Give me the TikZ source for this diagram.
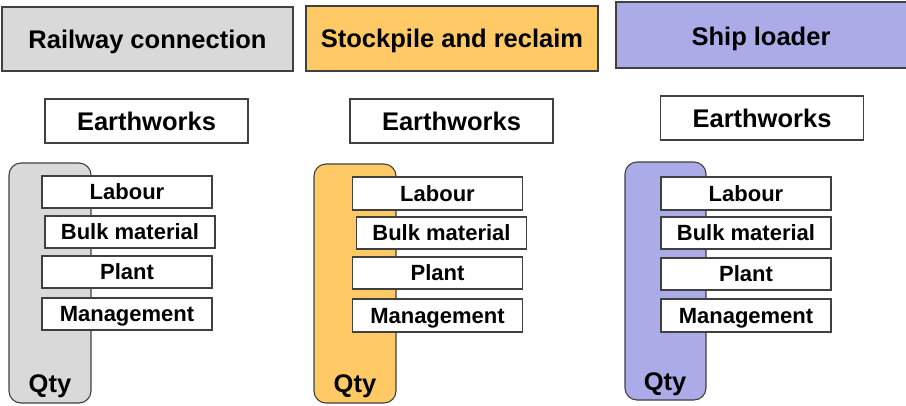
\documentclass[tikz,border=0pt]{standalone}
\usepackage{fontspec}
\setmainfont{Liberation Sans}
\definecolor{cgray}{HTML}{D9D9D9}
\definecolor{corange}{HTML}{FFCA66}
\definecolor{cpurple}{HTML}{ABABE8}
\definecolor{cline}{HTML}{404040}
\begin{document}
\begin{tikzpicture}[x=1pt,y=-1pt,
  bigtext/.style={text height=18.3pt, text depth=0pt, font=\fontsize{25.5}{30}\selectfont\bfseries},
  smalltext/.style={text height=15.8pt, text depth=0pt, font=\fontsize{22}{26}\selectfont\bfseries},
  titlebox/.style={draw=cline, line width=1.2pt, inner sep=0pt, bigtext},
  earthbox/.style={draw=cline, line width=1.1pt, fill=white, inner sep=0pt, bigtext, minimum width=203pt, minimum height=44pt},
  itembox/.style={draw=cline, line width=1.1pt, fill=white, inner sep=0pt, smalltext, minimum width=170pt, minimum height=32pt},
  qtybar/.style={draw=cline, line width=1.1pt, rounded corners=12pt, inner sep=0pt, minimum width=82pt},
  qtytext/.style={inner sep=0pt, bigtext}]
\useasboundingbox (0,0) rectangle (906,405);
\clip (0,0) rectangle (906,405);

% Panel 1
\node[titlebox, fill=cgray, minimum width=291pt, minimum height=64pt] (t1) at (147.5,39) {Railway connection};
\node[earthbox] (e1) at (146.5,121) {Earthworks};
\node[qtybar, fill=cgray, minimum height=240pt] (bar1) at (50,283) {};
\node[qtytext] (q1) at (50,383) {Qty};
\node[itembox] (l1) at (127,192) {Labour};
\node[itembox] (b1) at (130,232) {Bulk material};
\node[itembox] (p1) at (127,272) {Plant};
\node[itembox] (m1) at (127,314) {Management};

% Panel 2
\node[titlebox, fill=corange, minimum width=292pt, minimum height=65pt] (t2) at (452,38.5) {Stockpile and reclaim};
\node[earthbox] (e2) at (451.5,121) {Earthworks};
\node[qtybar, fill=corange, minimum height=239pt] (bar2) at (355,283.5) {};
\node[qtytext] (q2) at (355,383) {Qty};
\node[itembox, minimum height=33pt] (l2) at (437.5,193.5) {Labour};
\node[itembox] (b2) at (441.5,233) {Bulk material};
\node[itembox] (p2) at (437.5,273) {Plant};
\node[itembox, minimum height=33pt] (m2) at (437.5,315.5) {Management};

% Panel 3
\node[titlebox, fill=cpurple, minimum width=296pt, minimum height=66pt] (t3) at (764,35) {};
\node[inner sep=0pt, bigtext] (t3t) at (761,36) {Ship loader};
\node[earthbox] (e3) at (762,118) {Earthworks};
\node[qtybar, fill=cpurple, minimum width=81pt, minimum height=238pt] (bar3) at (665.5,281) {};
\node[qtytext] (q3) at (665,381) {Qty};
\node[itembox, minimum height=33pt] (l3) at (746,193.5) {Labour};
\node[itembox] (b3) at (746,233) {Bulk material};
\node[itembox] (p3) at (746,274) {Plant};
\node[itembox, minimum height=33pt] (m3) at (746,315.5) {Management};
\end{tikzpicture}
\end{document}
